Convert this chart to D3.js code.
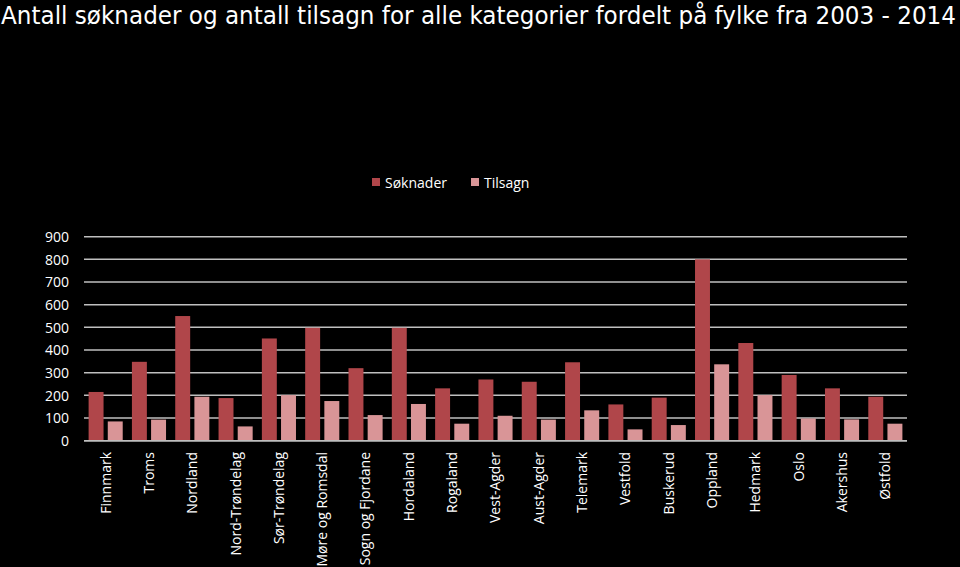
<!DOCTYPE html>
<html><head><meta charset="utf-8">
<script src="https://cdn.jsdelivr.net/npm/d3@7"></script>
<style>body{margin:0;background:#000;}svg{display:block;}</style>
</head><body>
<svg id="c" width="960" height="567"></svg>
<script>
const categories = ["Finnmark","Troms","Nordland","Nord-Trøndelag","Sør-Trøndelag","Møre og Romsdal","Sogn og Fjordane","Hordaland","Rogaland","Vest-Agder","Aust-Agder","Telemark","Vestfold","Buskerud","Oppland","Hedmark","Oslo","Akershus","Østfold"];
const soknader = [215,348,550,188,451,498,320,498,231,270,260,346,160,190,800,431,290,231,194];
const tilsagn  = [85,93,194,63,201,175,113,162,75,110,93,134,50,69,337,201,98,94,75];
const seriesNames = ["Søknader","Tilsagn"];
const seriesColors = ["#b0464a","#d99597"];
const yTicks = [0,100,200,300,400,500,600,700,800,900];
const title = "Antall søknader og antall tilsagn for alle kategorier fordelt på fylke fra 2003 - 2014";

const svg = d3.select("#c");
svg.append("rect").attr("width",960).attr("height",567).attr("fill","#000");
const font = "'Open Sans', sans-serif";

svg.append("text").attr("x",1).attr("y",24).attr("fill","#fff")
  .attr("font-family","'DejaVu Sans Condensed', 'Open Sans', sans-serif").attr("font-size",25)
  .attr("textLength",955).attr("lengthAdjust","spacingAndGlyphs").text(title);

const x0 = d3.scaleBand().domain(categories).range([84,907]).paddingInner(0).paddingOuter(0);
const x1 = d3.scaleBand().domain(seriesNames).range([0,x0.bandwidth()]).paddingInner(0.22).paddingOuter(0.24);
const y = d3.scaleLinear().domain([0,900]).range([440.7,236.7]);

// gridlines
svg.append("g").selectAll("line").data(yTicks).join("line")
  .attr("x1",84).attr("x2",907).attr("y1",d=>y(d)).attr("y2",d=>y(d))
  .attr("stroke","#bfbfbf").attr("stroke-width",1.5);

// y axis labels
const yAxis = d3.axisLeft(y).tickValues(yTicks).tickSize(0).tickPadding(0);
const ya = svg.append("g").attr("transform","translate(69,0)").call(yAxis);
ya.select(".domain").remove();
ya.selectAll("text").attr("fill","#fff").attr("font-family",font).attr("font-size",14).attr("dy","0.35em");

// bars
const data = categories.map((c,i)=>({c, vals:[soknader[i],tilsagn[i]]}));
const g = svg.append("g").selectAll("g").data(data).join("g").attr("transform",d=>`translate(${x0(d.c)},0)`);
g.selectAll("rect").data(d=>d.vals.map((v,j)=>({s:seriesNames[j],v,j}))).join("rect")
  .attr("x",d=>x1(d.s)).attr("width",x1.bandwidth())
  .attr("y",d=>y(d.v)).attr("height",d=>y(0)-y(d.v)).attr("fill",d=>seriesColors[d.j]);

// baseline over bars
svg.append("line").attr("x1",84).attr("x2",907).attr("y1",y(0)).attr("y2",y(0)).attr("stroke","#bfbfbf").attr("stroke-width",1.5);

// x axis labels
const xAxis = d3.axisBottom(x0).tickSize(0).tickPadding(0);
const xa = svg.append("g").attr("transform","translate(0,452)").call(xAxis);
xa.select(".domain").remove();
xa.selectAll("text").attr("fill","#fff").attr("font-family",font).attr("font-size",14)
  .attr("transform","rotate(-90)").attr("text-anchor","end").attr("x",0).attr("y",0).attr("dy","0.35em");

// legend
const leg = svg.append("g");
const legX = [372,471];
seriesNames.forEach((n,i)=>{
  leg.append("rect").attr("x",legX[i]).attr("y",178).attr("width",8).attr("height",8).attr("fill",seriesColors[i]);
  leg.append("text").attr("x",legX[i]+13).attr("y",188).attr("fill","#fff")
    .attr("font-family",font).attr("font-size",14).text(n);
});
</script>
</body></html>
